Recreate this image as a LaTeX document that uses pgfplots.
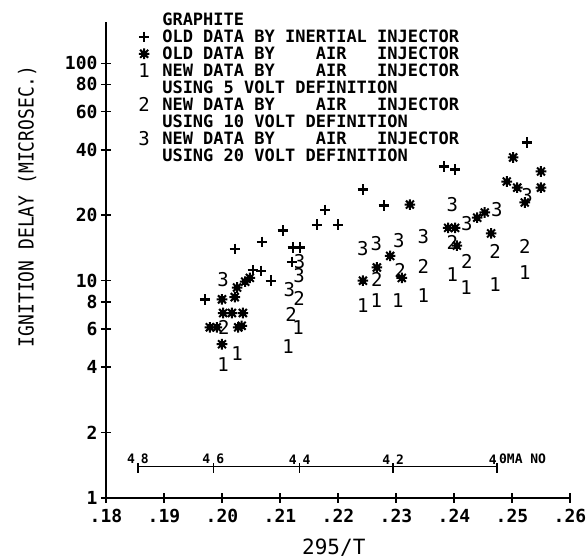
\documentclass[border=0pt]{standalone}
\usepackage{graphicx}
\usepackage{pgfplots}
\pgfplotsset{compat=1.18}
\usepackage{fontspec}
\setmainfont{DejaVu Sans Mono}
\newcommand\legfont{\fontsize{17}{17}\selectfont\bfseries}
\newcommand\tickfont{\fontsize{18}{18}\selectfont\bfseries}
\newcommand\labfont{\fontsize{18}{18}\selectfont}
\newcommand\xlabfont{\fontsize{21}{21}\selectfont}
\newcommand\digfont{\fontsize{19}{19}\selectfont}
\newcommand\machfont{\fontsize{13}{13}\selectfont\bfseries}

\pgfdeclareplotmark{pstar}{%
 \pgfpathmoveto{\pgfqpoint{-\pgfplotmarksize}{0pt}}\pgfpathlineto{\pgfqpoint{\pgfplotmarksize}{0pt}}%
 \pgfpathmoveto{\pgfqpoint{0pt}{-\pgfplotmarksize}}\pgfpathlineto{\pgfqpoint{0pt}{\pgfplotmarksize}}%
 \pgfpathmoveto{\pgfqpoint{-0.75\pgfplotmarksize}{-0.75\pgfplotmarksize}}\pgfpathlineto{\pgfqpoint{0.75\pgfplotmarksize}{0.75\pgfplotmarksize}}%
 \pgfpathmoveto{\pgfqpoint{-0.75\pgfplotmarksize}{0.75\pgfplotmarksize}}\pgfpathlineto{\pgfqpoint{0.75\pgfplotmarksize}{-0.75\pgfplotmarksize}}%
 \pgfusepathqstroke
 \pgfpathrectangle{\pgfqpoint{-0.55\pgfplotmarksize}{-0.55\pgfplotmarksize}}{\pgfqpoint{1.1\pgfplotmarksize}{1.1\pgfplotmarksize}}\pgfusepathqfill}

\pgfplotsset{
 plusst/.style={only marks, mark=+, mark size=5.2pt, line width=2.3pt, black},
 starst/.style={only marks, mark=pstar, mark size=5.3pt, line width=2pt, black},
 dig/.style={only marks, mark=text, text mark={\digfont #1}, black},
 machln/.style={black, line width=1.4pt, forget plot},
}

\begin{document}
\begin{tikzpicture}
\begin{axis}[name=ax, scale only axis, width=464pt, height=476pt,
 xmin=0.18, xmax=0.26, ymin=1, ymax=155, ymode=log,
 axis x line*=bottom, axis y line*=left,
 axis line style={line width=1.6pt},
 xtick={0.18,0.19,0.20,0.21,0.22,0.23,0.24,0.25,0.26},
 xticklabels={.18,.19,.20,.21,.22,.23,.24,.25,.26},
 ytick={1,2,4,6,8,10,20,40,60,80,100},
 yticklabels={1,2,4,6,8,10,20,40,60,80,100},
 yminorticks=false, xminorticks=false,
 tick align=center, major tick length=10pt,
 every tick/.style={black, line width=1.6pt},
 xticklabel style={font=\tickfont, yshift=-3pt},
 yticklabel style={font=\tickfont},
 ylabel={\scalebox{1}[1.15]{IGNITION DELAY (MICROSEC.)}},
 ylabel style={font=\labfont, at={(axis description cs:-0.17,0.613)}, anchor=center},
 xlabel={295/T},
 xlabel style={font=\xlabfont, at={(axis description cs:0.491,-0.105)}, anchor=center},
 clip=false,
 legend cell align=left,
 legend image code/.code={\draw[#1] plot coordinates {(0pt,0pt)}; \path (-8pt,0pt) (8pt,0pt);},
 legend style={at={(axis description cs:0.0625,1.022)}, anchor=north west, draw=none, fill=none,
   inner sep=0pt, outer sep=0pt, row sep=0pt, column sep=9pt, font=\legfont,
   nodes={inner sep=0pt, text height=14.45pt, text depth=2.45pt}},
]
\addlegendimage{empty legend}\addlegendentry{GRAPHITE}
\addlegendimage{plusst}\addlegendentry{OLD DATA BY INERTIAL INJECTOR}
\addlegendimage{starst}\addlegendentry{OLD DATA BY~~~~AIR~~~INJECTOR}
\addlegendimage{dig=1}\addlegendentry{NEW DATA BY~~~~AIR~~~INJECTOR}
\addlegendimage{empty legend}\addlegendentry{USING 5 VOLT DEFINITION}
\addlegendimage{dig=2}\addlegendentry{NEW DATA BY~~~~AIR~~~INJECTOR}
\addlegendimage{empty legend}\addlegendentry{USING 10 VOLT DEFINITION}
\addlegendimage{dig=3}\addlegendentry{NEW DATA BY~~~~AIR~~~INJECTOR}
\addlegendimage{empty legend}\addlegendentry{USING 20 VOLT DEFINITION}

% Mach number scale
\addplot[machln] coordinates {(0.1855,1.40) (0.2474,1.40)};
\addplot[machln] coordinates {(0.1855,1.304) (0.1855,1.45)};
\addplot[machln] coordinates {(0.1985,1.304) (0.1985,1.45)};
\addplot[machln] coordinates {(0.2134,1.304) (0.2134,1.45)};
\addplot[machln] coordinates {(0.2295,1.304) (0.2295,1.45)};
\addplot[machln] coordinates {(0.2474,1.304) (0.2474,1.45)};
\node[anchor=south, font=\machfont, inner sep=0pt] at (axis cs:0.1855,1.43) {4\hspace{6pt}8};
\node[anchor=south, font=\machfont, inner sep=0pt] at (axis cs:0.1985,1.43) {4\hspace{6pt}6};
\node[anchor=south, font=\machfont, inner sep=0pt] at (axis cs:0.2134,1.43) {4\hspace{6pt}4};
\node[anchor=south, font=\machfont, inner sep=0pt] at (axis cs:0.2295,1.43) {4\hspace{6pt}2};
\node[anchor=south east, font=\machfont, inner sep=0pt] at (axis cs:0.2474,1.43) {4\hspace{2pt}};
\node[anchor=south west, font=\machfont, inner sep=0pt] at (axis cs:0.2474,1.43) {\hspace{2pt}0MA NO};

% old data, inertial injector
\addplot[plusst, forget plot] coordinates {
(0.1971,8.2) (0.2022,14.0) (0.2069,15.1) (0.2053,11.2) (0.2067,11.1) (0.2084,10.0)
(0.2105,17.0) (0.2122,14.2) (0.2134,14.2) (0.2121,12.2) (0.2164,18.1) (0.2200,18.1)
(0.2178,21.2) (0.2243,26.3) (0.2279,22.2) (0.2383,33.5) (0.2402,32.5) (0.2526,43.3)};
% old data, air injector
\addplot[starst, forget plot] coordinates {
(0.2040,9.9) (0.2048,10.3) (0.2026,9.3) (0.2000,8.2) (0.2022,8.4) (0.2002,7.1)
(0.2017,7.1) (0.2036,7.1) (0.1979,6.1) (0.1991,6.1) (0.2028,6.1) (0.2034,6.2) (0.2000,5.1)
(0.2324,22.4) (0.2267,11.5) (0.2243,10.0) (0.2290,13.0) (0.2310,10.3) (0.2390,17.5)
(0.2402,17.5) (0.2405,14.5) (0.2440,19.5) (0.2453,20.6) (0.2464,16.5) (0.2502,36.9)
(0.2550,31.8) (0.2550,26.8) (0.2491,28.6) (0.2509,26.8) (0.2522,22.9)};
% new data 5 V
\addplot[dig=1, forget plot] coordinates {
(0.2026,4.6) (0.2002,4.1) (0.2131,6.1) (0.2114,5.0) (0.2243,7.7) (0.2266,8.1)
(0.2303,8.1) (0.2347,8.5) (0.2397,10.7) (0.2421,9.3) (0.2471,9.6) (0.2522,10.9)};
% new data 10 V
\addplot[dig=2, forget plot] coordinates {
(0.2003,6.1) (0.2133,8.3) (0.2119,7.0) (0.2267,10.1) (0.2307,11.2) (0.2347,11.6)
(0.2397,15.0) (0.2422,12.2) (0.2471,13.6) (0.2522,14.3)};
% new data 20 V
\addplot[dig=3, forget plot] coordinates {
(0.2002,10.1) (0.2134,12.2) (0.2133,10.5) (0.2116,9.1) (0.2243,14.0) (0.2266,14.8)
(0.2305,15.3) (0.2347,15.9) (0.2397,22.4) (0.2422,18.3) (0.2474,21.2) (0.2526,24.6)};
\end{axis}
\pgfresetboundingbox
\path (ax.south west) ++(-106pt,-62pt) rectangle ++(587pt,560pt);
\end{tikzpicture}
\end{document}
